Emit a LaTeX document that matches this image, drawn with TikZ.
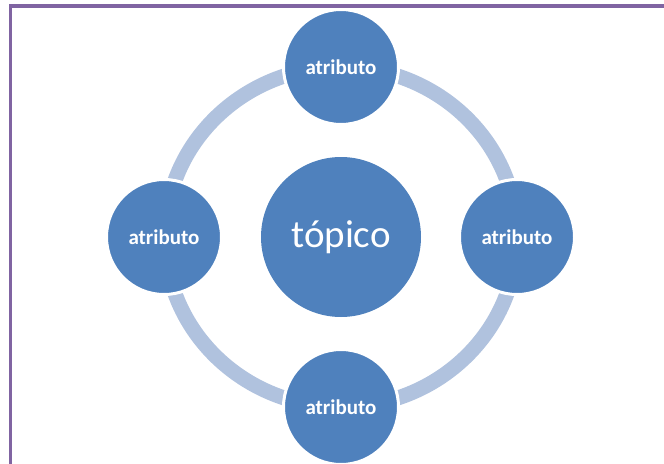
\documentclass[tikz,border=0pt]{standalone}
\usepackage{fontspec}
\setmainfont{Carlito}
\definecolor{nodeblue}{RGB}{79,129,189}
\definecolor{ringblue}{RGB}{176,194,222}
\definecolor{framepurple}{RGB}{128,100,162}
\tikzset{
  px/.style={x=0.75pt,y=-0.75pt},
  satellite/.style={circle,fill=nodeblue,draw=white,line width=2.25pt,minimum size=86.25pt,inner sep=0pt,text=white,font=\fontsize{15.75}{18}\selectfont\bfseries},
  topicnode/.style={circle,fill=nodeblue,minimum size=120pt,inner sep=0pt,text=white,font=\fontsize{29.25}{34}\selectfont},
  ring/.style={draw=ringblue,line width=11.25pt},
  frameline/.style={draw=framepurple,line width=2.6pt}
}
\begin{document}
\begin{tikzpicture}[px]
\useasboundingbox (0,0) rectangle (664,464);
\node[topicnode] (c) at (341,237) {tópico};
\draw[ring] (c.center) ellipse [x radius=132pt, y radius=127.5pt];
\node[satellite] (t) at (341,67) {atributo};
\node[satellite] (r) at (517,237) {atributo};
\node[satellite] (b) at (341,407) {atributo};
\node[satellite] (l) at (164,237) {atributo};
\draw[frameline] (10.5,470) -- (10.5,6) -- (670,6);
\end{tikzpicture}
\end{document}
